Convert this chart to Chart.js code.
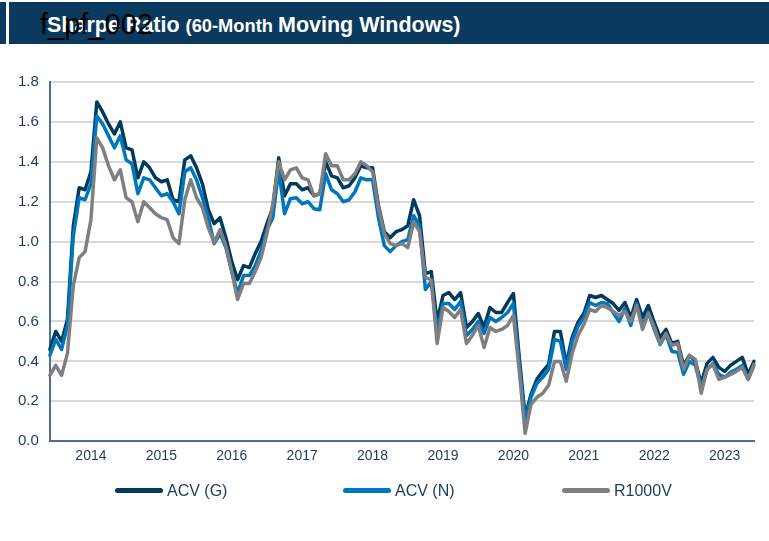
<!DOCTYPE html>
<html>
<head>
<meta charset="utf-8">
<script src="https://cdn.jsdelivr.net/npm/chart.js@4.4.1/dist/chart.umd.min.js"></script>
<style>
  html, body { margin: 0; padding: 0; background: #fff; }
  #wrap { position: relative; width: 769px; height: 541px; overflow: hidden; font-family: "Liberation Sans", Arial, sans-serif; }
  #strip { position: absolute; left: 0; top: 2px; width: 6px; height: 42px; background: #0b3a5e; }
  #bar { position: absolute; left: 9px; top: 2px; right: 0; height: 42px; background: #0b3a5e; }
  #title { position: absolute; left: 47px; top: 13px; color: #fff; font-weight: bold; white-space: nowrap; line-height: 24px; }
  #title .big { font-size: 21.5px; }
  #title .small { font-size: 18.3px; }
  #code { position: absolute; left: 40px; top: 7px; color: #000; font-size: 29px; white-space: nowrap; line-height: 34px; }
  #chartBox { position: absolute; left: 0; top: 0; width: 769px; height: 541px; }
  #legend { position: absolute; left: 0; top: 480px; width: 769px; height: 24px; color: #1f3a5c; font-size: 16px; }
  #legend .item { position: absolute; top: 0; white-space: nowrap; line-height: 22px; }
  #legend .swatch { display: inline-block; width: 48px; height: 5px; border-radius: 2.5px; vertical-align: middle; margin-right: 4px; position: relative; top: -1px; }
</style>
</head>
<body>
<div id="wrap">
  <div id="strip"></div>
  <div id="bar"></div>
  <div id="title"><span class="big">Sharpe Ratio </span><span class="small">(60-Month </span><span class="big">Moving Windows)</span></div>
  <div id="code">f_pf_002</div>
  <div id="chartBox"><canvas id="chart"></canvas></div>
  <div id="legend"></div>
</div>
<script>
// monthly windows, Jun 2013 .. Jun 2023
const startYear = 2013;
const startMonth = 6;

const acvG = [
  0.46, 0.55, 0.50, 0.61, 1.08, 1.27, 1.26, 1.35, 1.70, 1.65,
  1.59, 1.54, 1.60, 1.47, 1.46, 1.32, 1.40, 1.37, 1.32, 1.30,
  1.31, 1.21, 1.20, 1.41, 1.43, 1.37, 1.29, 1.16, 1.09, 1.12,
  1.02, 0.90, 0.81, 0.88, 0.87, 0.94, 1.00, 1.09, 1.17, 1.42,
  1.23, 1.29, 1.29, 1.26, 1.27, 1.23, 1.24, 1.40, 1.33, 1.32,
  1.27, 1.28, 1.32, 1.38, 1.37, 1.37, 1.18, 1.05, 1.02, 1.05,
  1.06, 1.08, 1.21, 1.13, 0.84, 0.85, 0.60, 0.73, 0.745, 0.71,
  0.745, 0.57, 0.60, 0.64, 0.57, 0.67, 0.645, 0.645, 0.695, 0.74,
  0.42, 0.12, 0.235, 0.31, 0.35, 0.385, 0.55, 0.55, 0.385, 0.52,
  0.595, 0.64, 0.73, 0.72, 0.73, 0.71, 0.69, 0.655, 0.695, 0.62,
  0.71, 0.62, 0.68, 0.595, 0.52, 0.56, 0.49, 0.50, 0.38, 0.43,
  0.40, 0.29, 0.39, 0.42, 0.37, 0.35, 0.38, 0.40, 0.42, 0.335,
  0.40
];
const acvN = [
  0.43, 0.51, 0.46, 0.58, 1.03, 1.22, 1.21, 1.29, 1.63, 1.59,
  1.53, 1.47, 1.53, 1.41, 1.39, 1.24, 1.32, 1.31, 1.27, 1.23,
  1.24, 1.20, 1.14, 1.35, 1.37, 1.31, 1.22, 1.12, 0.99, 1.04,
  0.97, 0.85, 0.74, 0.83, 0.83, 0.88, 0.955, 1.06, 1.12, 1.36,
  1.14, 1.215, 1.22, 1.19, 1.20, 1.165, 1.16, 1.34, 1.26, 1.24,
  1.20, 1.21, 1.25, 1.32, 1.31, 1.31, 1.12, 0.98, 0.95, 0.98,
  1.00, 1.01, 1.13, 1.08, 0.76, 0.80, 0.55, 0.69, 0.69, 0.66,
  0.70, 0.53, 0.56, 0.60, 0.54, 0.62, 0.60, 0.62, 0.645, 0.69,
  0.39, 0.10, 0.22, 0.29, 0.32, 0.36, 0.51, 0.50, 0.36, 0.50,
  0.575, 0.62, 0.695, 0.68, 0.695, 0.69, 0.645, 0.60, 0.665, 0.58,
  0.69, 0.58, 0.645, 0.56, 0.485, 0.535, 0.45, 0.445, 0.335, 0.40,
  0.38, 0.27, 0.36, 0.39, 0.335, 0.32, 0.345, 0.36, 0.38, 0.31,
  0.38
];
const r1000v = [
  0.33, 0.38, 0.33, 0.44, 0.78, 0.92, 0.95, 1.11, 1.52, 1.47,
  1.38, 1.31, 1.36, 1.22, 1.20, 1.10, 1.20, 1.17, 1.14, 1.12,
  1.11, 1.02, 0.99, 1.21, 1.31, 1.22, 1.17, 1.07, 0.995, 1.06,
  0.98, 0.85, 0.71, 0.79, 0.79, 0.85, 0.92, 1.04, 1.19, 1.40,
  1.31, 1.36, 1.37, 1.32, 1.31, 1.23, 1.24, 1.44, 1.38, 1.38,
  1.31, 1.31, 1.34, 1.40, 1.38, 1.35, 1.17, 1.04, 0.99, 0.98,
  0.99, 0.97, 1.10, 1.05, 0.82, 0.81, 0.49, 0.67, 0.65, 0.62,
  0.66, 0.49, 0.53, 0.58, 0.47, 0.57, 0.55, 0.56, 0.58, 0.63,
  0.35, 0.04, 0.185, 0.22, 0.24, 0.28, 0.40, 0.40, 0.30, 0.44,
  0.53, 0.585, 0.66, 0.65, 0.68, 0.67, 0.65, 0.63, 0.65, 0.60,
  0.68, 0.56, 0.64, 0.57, 0.49, 0.54, 0.48, 0.49, 0.36, 0.43,
  0.41, 0.24, 0.36, 0.385, 0.31, 0.32, 0.335, 0.35, 0.37, 0.31,
  0.385
];

const seriesNames = ["ACV (G)", "ACV (N)", "R1000V"];
const seriesColors = ["#003a5d", "#0076be", "#7f7f7f"];
const legendLeft = [115, 343, 562];

const labels = [];
for (let i = 0; i < acvG.length; i++) {
    const m = (startMonth - 1 + i) % 12 + 1;
    const y = startYear + Math.floor((startMonth - 1 + i) / 12);
    labels.push(y + "-" + String(m).padStart(2, "0"));
}

const textColor = "#1f3a5c";
const axisColor = "#4f6f8c";

function makeSet(idx, values) {
    return {
        label: seriesNames[idx],
        data: values,
        borderColor: seriesColors[idx],
        backgroundColor: seriesColors[idx],
        borderWidth: 3.5,
        pointRadius: 0,
        tension: 0,
        borderCapStyle: "round",
        borderJoinStyle: "round",
        fill: false,
        order: 2 - idx   // R1000V drawn on top
    };
}

const chart = new Chart(document.getElementById("chart").getContext("2d"), {
    type: "line",
    data: {
        labels: labels,
        datasets: [makeSet(0, acvG), makeSet(1, acvN), makeSet(2, r1000v)]
    },
    options: {
        responsive: true,
        maintainAspectRatio: false,
        animation: false,
        layout: { padding: { left: 7, right: 15, top: 82, bottom: 69 } },
        plugins: {
            tooltip: { enabled: false },
            legend: { display: false }
        },
        scales: {
            x: {
                offset: false,
                grid: { display: false, drawTicks: false },
                border: { display: true, color: axisColor, width: 2 },
                ticks: {
                    autoSkip: false,
                    maxRotation: 0,
                    padding: 7,
                    color: textColor,
                    font: { family: "'Liberation Sans Narrow', 'Arial Narrow', Arial, sans-serif", size: 14 },
                    callback: function (val, i) {
                        const l = labels[i];
                        return l.endsWith("-01") ? l.slice(0, 4) : "";
                    }
                }
            },
            y: {
                min: 0,
                max: 1.8,
                grid: { color: "#d9d9d9", lineWidth: 2, drawTicks: false },
                border: { display: true, color: axisColor, width: 2 },
                ticks: {
                    stepSize: 0.2,
                    padding: 11,
                    color: textColor,
                    font: { family: "'Liberation Sans', Arial, sans-serif", size: 15 },
                    callback: v => v.toFixed(1)
                }
            }
        }
    }
});

// legend built from the dataset names and colours
const legend = document.getElementById("legend");
chart.data.datasets.forEach((ds, i) => {
    const item = document.createElement("div");
    item.className = "item";
    item.style.left = legendLeft[i] + "px";
    const sw = document.createElement("span");
    sw.className = "swatch";
    sw.style.background = ds.borderColor;
    item.appendChild(sw);
    item.appendChild(document.createTextNode(ds.label));
    legend.appendChild(item);
});
</script>
</body>
</html>
